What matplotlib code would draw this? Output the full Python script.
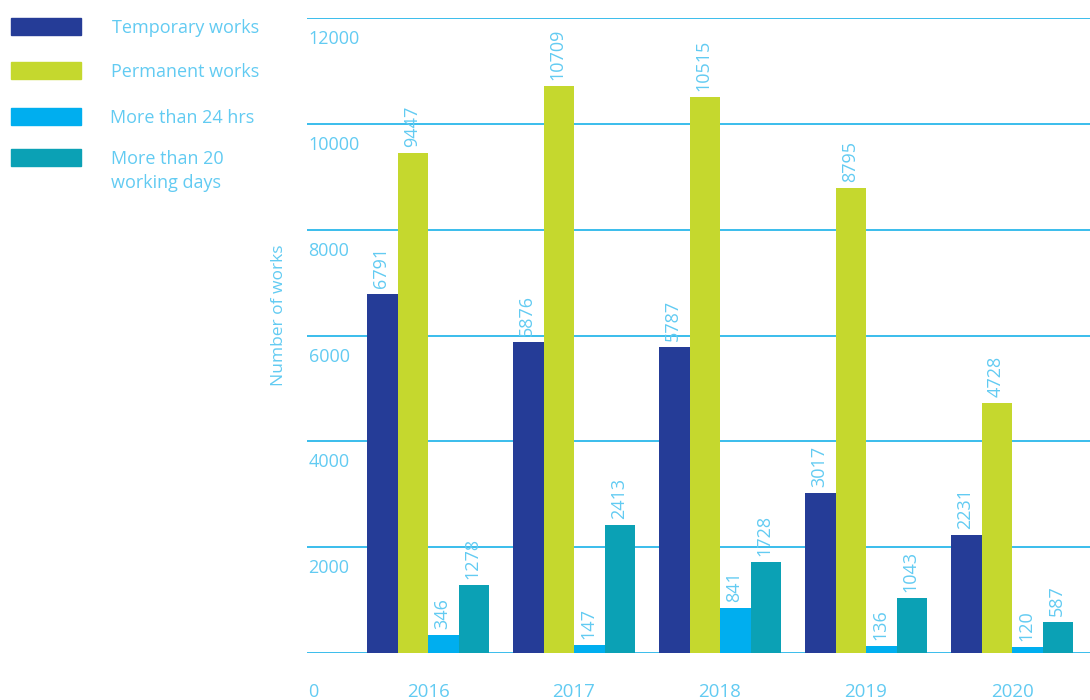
import matplotlib
matplotlib.use("Agg")
import matplotlib.pyplot as plt
import numpy as np
from matplotlib.patches import Rectangle
from matplotlib.transforms import blended_transform_factory, ScaledTranslation

plt.rcParams['font.family'] = ['Open Sans', 'DejaVu Sans']

years = ["2016", "2017", "2018", "2019", "2020"]
series_names = ["Temporary works", "Permanent works", "More than 24 hrs",
                "More than 20\nworking days"]
temporary = [6791, 5876, 5787, 3017, 2231]
permanent = [9447, 10709, 10515, 8795, 4728]
over_24h = [346, 147, 841, 136, 120]
over_20d = [1278, 2413, 1728, 1043, 587]
y_ticks = [0, 2000, 4000, 6000, 8000, 10000, 12000]

colors = ["#253C97", "#C5D82E", "#00AEEF", "#0BA1B5"]
text_color = "#62CBF2"
grid_color = "#2BB8EA"
weight = 'normal'

fig = plt.figure(figsize=(10.9, 7.0), dpi=100)
ax = fig.add_axes([307 / 1090, 47 / 700, 783 / 1090, 635 / 700])

x = np.arange(len(years))
width = 0.209
all_series = [temporary, permanent, over_24h, over_20d]
offsets = (np.arange(4) - 1.5) * width

for vals, off, col in zip(all_series, offsets, colors):
    bars = ax.bar(x + off, vals, width=width, color=col, zorder=3)
    for rect, v in zip(bars, vals):
        ax.annotate(str(v), (rect.get_x() + rect.get_width() / 2, v),
                    xytext=(-1, 6), textcoords='offset pixels',
                    rotation=90, ha='center', va='bottom',
                    color=text_color, fontsize=13, fontweight=weight,
                    zorder=4)

ax.set_ylim(0, 12000)
ax.set_xlim(-0.829, 4.534)

for t in y_ticks:
    ax.axhline(t, color=grid_color, lw=1.3, zorder=1)

for s in ax.spines.values():
    s.set_visible(False)
ax.set_xticks([])
ax.set_yticks([])

# y tick labels sit just below their grid lines
trans = blended_transform_factory(ax.transAxes, ax.transData)
for t in y_ticks:
    dy = -39 if t == 0 else -21
    ax.text(0.002, t, str(t), ha='left', va='center', color=text_color,
            fontsize=13, fontweight=weight,
            transform=trans + ScaledTranslation(0, dy / 100, fig.dpi_scale_trans))

# year labels under each group
trans_x = blended_transform_factory(ax.transData, ax.transAxes)
for xi, yr in zip(x, years):
    ax.text(xi, 0, yr, ha='center', va='center', color=text_color,
            fontsize=13.5, fontweight=weight,
            transform=trans_x + ScaledTranslation(0, -39 / 100, fig.dpi_scale_trans))

fig.text(279 / 1090, 1 - 315 / 700, "Number of works", rotation=90,
         ha='center', va='center', color=text_color, fontsize=12.5,
         fontweight=weight)

# legend
patch_tops = [18, 62, 108, 149]
text_y = [28, 72, 118, 171]
text_x = [112, 111, 110, 111]
for name, col, top, ty, tx in zip(series_names, colors, patch_tops, text_y, text_x):
    fig.patches.append(Rectangle((11 / 1090, 1 - (top + 17) / 700), 70 / 1090, 17 / 700,
                                 transform=fig.transFigure, color=col))
    fig.text(tx / 1090, 1 - ty / 700, name, ha='left', va='center',
             color=text_color, fontsize=13, fontweight=weight, linespacing=1.5)

fig.savefig("out.png", dpi=100)
